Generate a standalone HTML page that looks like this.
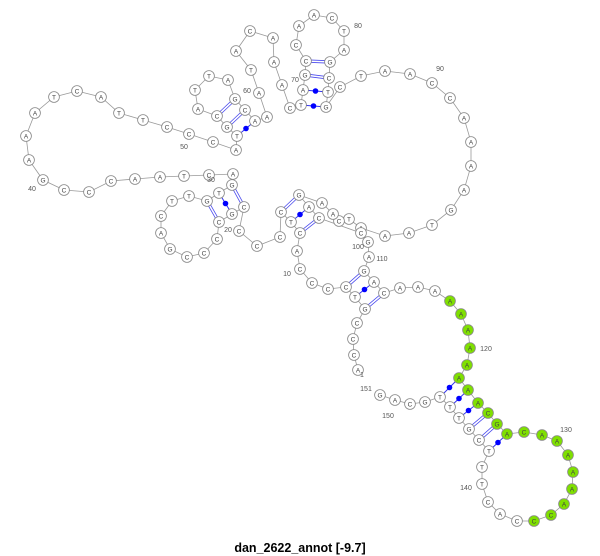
<!DOCTYPE html>
<html><head><meta charset="utf-8"><style>
html,body{margin:0;padding:0;background:#fff;width:600px;height:556px;overflow:hidden}
svg{display:block}
text{font-family:"Liberation Sans",sans-serif}
</style></head><body>
<svg id="s" width="600" height="556" viewBox="0 0 600 556" xmlns="http://www.w3.org/2000/svg">
<text x="300" y="552" text-anchor="middle" font-size="12.5" font-weight="bold" fill="#000">dan_2622_annot [-9.7]</text>
</svg>
<script>
var N=[[358,370,'A'],[354,355,'C'],[353,339,'C'],[357,323,'C'],[365,309,'G'],[355,297,'T'],[346,287,'C'],[328,289,'C'],[312,283,'C'],[300,269,'C'],
[297,251,'A'],[300,233,'C'],[291,222,'T'],[281,212,'C'],[280,237,'C'],[257,246,'C'],[239,231,'C'],[244,207,'C'],[232,214,'G'],[219,222,'C'],
[217,239,'C'],[204,253,'C'],[187,257,'C'],[170,249,'G'],[161,233,'A'],[161,216,'C'],[172,201,'T'],[189,196,'T'],[207,201,'G'],[219,193,'T'],
[232,185,'G'],[233,174,'A'],[209,175,'C'],[184,176,'T'],[160,177,'A'],[135,179,'A'],[111,181,'C'],[89,192,'C'],[64,190,'C'],[43,180,'G'],
[29,160,'A'],[26,136,'A'],[35,113,'A'],[54,97,'T'],[77,91,'C'],[101,97,'A'],[119,113,'T'],[143,120,'T'],[167,127,'C'],[189,134,'C'],
[213,142,'C'],[236,150,'A'],[237,136,'T'],[227,127,'G'],[217,116,'C'],[198,109,'A'],[195,90,'T'],[209,76,'T'],[228,80,'A'],[235,99,'G'],
[245,110,'C'],[255,121,'A'],[267,117,'A'],[259,93,'A'],[251,70,'T'],[236,51,'A'],[250,31,'C'],[273,38,'A'],[274,62,'A'],[282,85,'A'],
[290,108,'C'],[301,105,'T'],[303,90,'A'],[305,75,'G'],[306,61,'C'],[296,45,'C'],[299,26,'A'],[314,15,'A'],[332,18,'C'],[344,31,'T'],
[344,50,'A'],[330,62,'G'],[329,78,'C'],[328,92,'T'],[326,107,'G'],[340,87,'C'],[361,76,'T'],[385,71,'A'],[410,74,'A'],[432,83,'C'],
[450,98,'C'],[464,118,'A'],[471,142,'A'],[471,166,'A'],[464,190,'A'],[451,210,'G'],[432,225,'T'],[409,233,'A'],[385,236,'A'],[361,228,'A'],
[349,219,'T'],[339,221,'C'],[333,214,'A'],[322,203,'A'],[299,195,'G'],[309,207,'A'],[319,218,'C'],[361,233,'C'],[368,242,'G'],[369,257,'A'],
[364,271,'G'],[374,282,'A'],[384,293,'C'],[400,288,'A'],[418,287,'A'],[435,291,'A'],[450,301,'A'],[461,314,'A'],[468,330,'A'],[470,348,'A'],
[467,365,'A'],[459,378,'A'],[468,390,'A'],[478,403,'A'],[488,413,'C'],[497,424,'G'],[507,434,'A'],[524,432,'C'],[542,435,'A'],[557,441,'A'],
[568,455,'A'],[573,472,'A'],[572,489,'A'],[564,504,'A'],[551,515,'C'],[534,521,'C'],[517,521,'C'],[500,514,'A'],[488,502,'C'],[482,484,'T'],
[482,467,'T'],[489,451,'T'],[479,440,'C'],[469,429,'G'],[459,418,'T'],[450,407,'T'],[440,397,'T'],[425,402,'G'],[410,404,'C'],[395,400,'A'],
[380,395,'G']];
var P=[[5,113,2],[6,112,1],[7,111,2],[12,107,2],[13,106,1],[14,105,2],[18,31,2],[19,30,1],[20,29,2],[53,62,1],[54,61,2],[55,60,2],
[72,85,1],[73,84,1],[74,83,2],[75,82,2],[122,147,1],[123,146,1],[124,145,1],[125,144,2],[126,143,2],[127,142,1]];
var L=[[10,287,276,294,271],[20,228,232,222,226],[30,211,182,216,187],[40,32,191,38,185],[50,184,149,187,140],[60,247,93,240,96],[70,295,82,288,84],
[80,358,28,350,31],[90,440,71,436,78],[100,358,249,360,240],[110,382,261,375,257],[120,486,351,476,348],[130,566,432,561,436],[140,466,490,476,485],
[150,388,418,393,407],[151,366,391,0,0],[1,362,377,0,0]];
var s=document.getElementById('s'),h='';
var pts=N.map(function(n){return n[0]+','+n[1]}).join(' ');
h+='<polyline points="'+pts+'" fill="none" stroke="#999" stroke-width="0.8"/>';
P.forEach(function(p){var a=N[p[0]-1],b=N[p[1]-1];
 if(p[2]==2){var dx=b[0]-a[0],dy=b[1]-a[1],l=Math.sqrt(dx*dx+dy*dy),ox=-dy/l*1.2,oy=dx/l*1.2;
  h+='<line x1="'+(a[0]+ox)+'" y1="'+(a[1]+oy)+'" x2="'+(b[0]+ox)+'" y2="'+(b[1]+oy)+'" stroke="#4a4aee" stroke-width="0.8"/>';
  h+='<line x1="'+(a[0]-ox)+'" y1="'+(a[1]-oy)+'" x2="'+(b[0]-ox)+'" y2="'+(b[1]-oy)+'" stroke="#4a4aee" stroke-width="0.8"/>';}
 else{h+='<line x1="'+a[0]+'" y1="'+a[1]+'" x2="'+b[0]+'" y2="'+b[1]+'" stroke="#3333ee" stroke-width="1"/>';
  h+='<circle cx="'+(a[0]+b[0])/2+'" cy="'+(a[1]+b[1])/2+'" r="2.8" fill="#0000ff"/>';}
});
N.forEach(function(n,i){var g=(i>=116&&i<=135);
 h+='<circle cx="'+n[0]+'" cy="'+n[1]+'" r="5.4" fill="'+(g?'#7fe000':'#fff')+'" stroke="#888" stroke-width="0.8"/>';
 h+='<text x="'+n[0]+'" y="'+(n[1]+2.3)+'" text-anchor="middle" font-size="6.5" fill="#444">'+n[2]+'</text>';});
L.forEach(function(l){h+='<text x="'+l[1]+'" y="'+l[2]+'" text-anchor="middle" font-size="7" fill="#555">'+l[0]+'</text>';});
s.insertAdjacentHTML('beforeend',h);
</script>
</body></html>
